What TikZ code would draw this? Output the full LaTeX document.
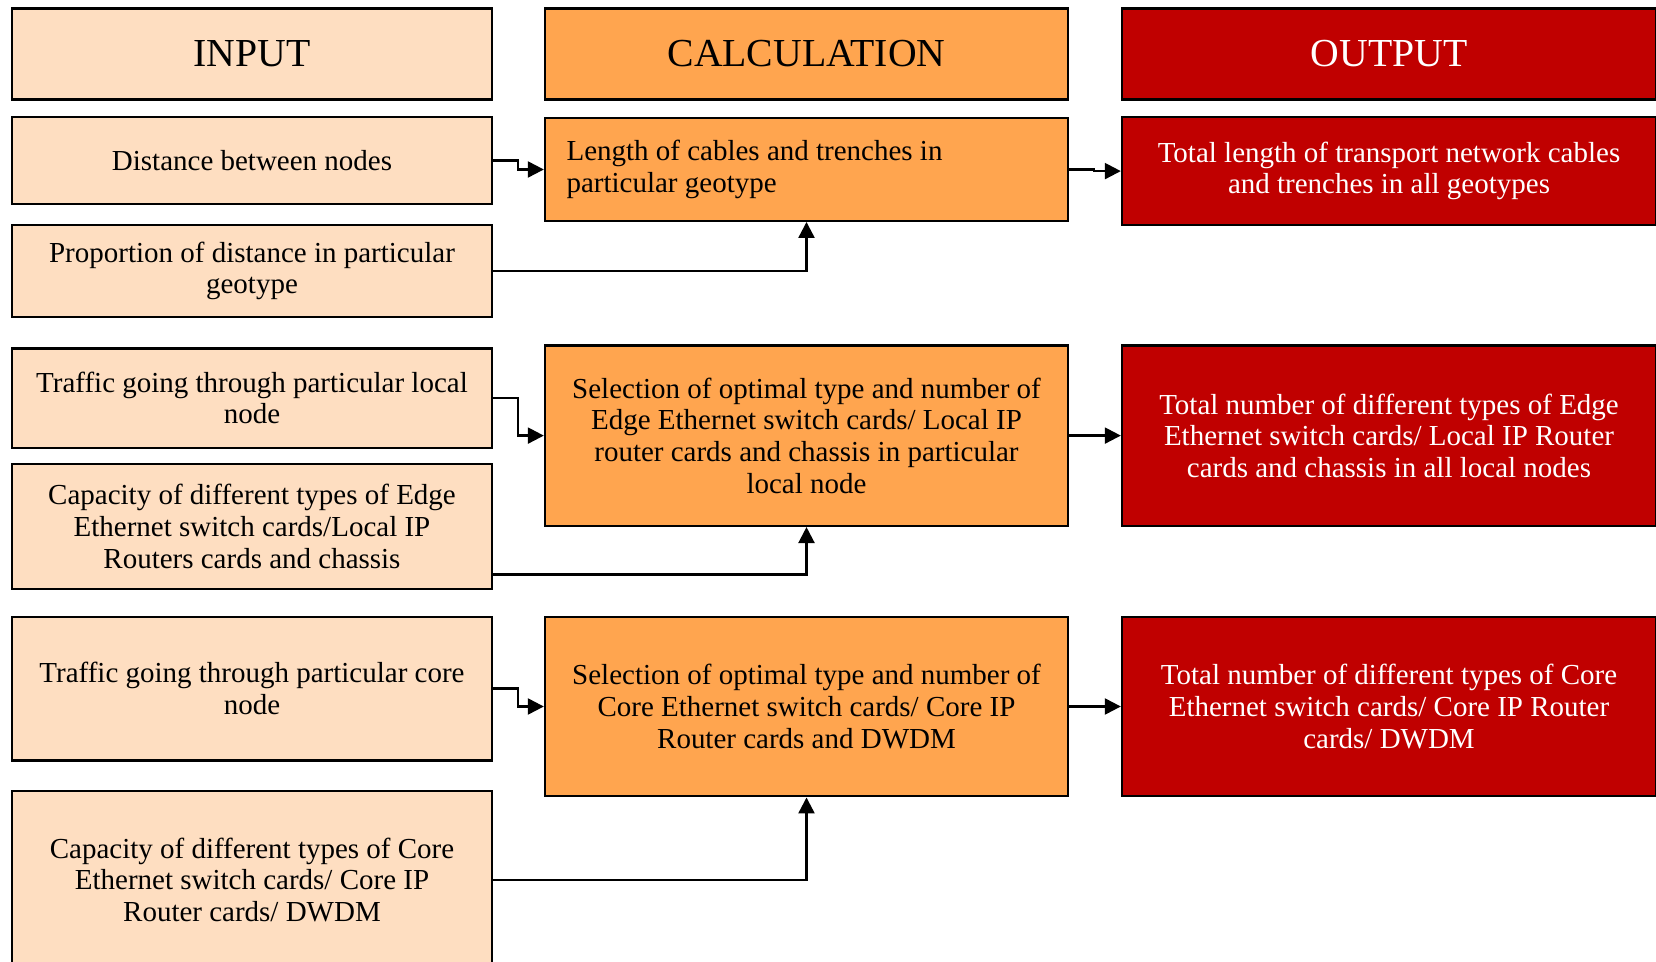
\documentclass[tikz,border=0pt]{standalone}
\usepackage{fontspec}
\setmainfont{Liberation Serif}
\usetikzlibrary{arrows.meta}
\definecolor{inpeach}{RGB}{254,222,193}
\definecolor{calcorange}{RGB}{255,165,79}
\definecolor{outred}{RGB}{192,0,0}

\begin{document}
\begin{tikzpicture}[x=0.02cm, y=-0.02cm,
      box/.style={rectangle, draw=black, line width=1.4pt, align=center, inner sep=4pt,
                  font=\fontsize{16.5}{18}\selectfont},
      inbox/.style={box, fill=inpeach, minimum width=9.6cm},
      calcbox/.style={box, fill=calcorange, minimum width=10.46cm},
      outbox/.style={box, fill=outred, text=white, minimum width=10.68cm},
      head/.style={font=\fontsize{22.6}{26}\selectfont, minimum height=1.82cm},
      arr/.style={-{Triangle[length=0.32cm, width=0.32cm]}, line width=1.3pt}]
    \useasboundingbox (0,0) rectangle (1656,962);
    % column headers
    \node[inbox, head] (inhead) at (252,53.9) {INPUT};
    \node[calcbox, head] (calchead) at (806.5,53.9) {CALCULATION};
    \node[outbox, head] (outhead) at (1389,53.9) {OUTPUT};
    % cables and trenches
    \node[inbox, minimum height=1.73cm] (dist) at (252,160.5) {Distance between nodes};
    \node[inbox, minimum height=1.84cm] (prop) at (252,270.9) {Proportion of distance in particular\\geotype};
    \node[calcbox, minimum height=2.05cm, text width=9.6cm, align=flush left] (len) at (806.5,169.5)
      {Length of cables and trenches in\\particular geotype};
    \node[outbox, minimum height=2.16cm] (totlen) at (1389,171.1)
      {Total length of transport network cables\\and trenches in all geotypes};
    % local nodes
    \node[inbox, minimum height=1.99cm] (trloc) at (252,398.1) {Traffic going through particular local\\node};
    \node[inbox, minimum height=2.51cm] (capedge) at (252,526.5)
      {Capacity of different types of Edge\\Ethernet switch cards/Local IP\\Routers cards and chassis};
    \node[calcbox, minimum height=3.61cm] (seledge) at (806.5,435.6)
      {Selection of optimal type and number of\\Edge Ethernet switch cards/ Local IP\\router cards and chassis in particular\\local node};
    \node[outbox, minimum height=3.61cm] (totedge) at (1389,435.6)
      {Total number of different types of Edge\\Ethernet switch cards/ Local IP Router\\cards and chassis in all local nodes};
    % core nodes
    \node[inbox, minimum height=2.87cm] (trcore) at (252,688.6) {Traffic going through particular core\\node};
    \node[inbox, minimum height=3.55cm] (capcore) at (252,879.7)
      {Capacity of different types of Core\\Ethernet switch cards/ Core IP\\Router cards/ DWDM};
    \node[calcbox, minimum height=3.59cm] (selcore) at (806.5,706.5)
      {Selection of optimal type and number of\\Core Ethernet switch cards/ Core IP\\Router cards and DWDM};
    \node[outbox, minimum height=3.59cm] (totcore) at (1389,706.5)
      {Total number of different types of Core\\Ethernet switch cards/ Core IP Router\\cards/ DWDM};
    % connectors
    \draw[arr] (dist.east) -- ++(25,0) |- (len.west);
    \draw[arr] (prop.east) -| (len.south);
    \draw[arr] (len.east) -- ++(25,0) |- (totlen.west);
    \draw[arr] (trloc.east) -- ++(25,0) |- (seledge.west);
    \draw[arr] ([yshift=-0.96cm]capedge.east) -| (seledge.south);
    \draw[arr] (seledge.east) -- ++(25,0) |- (totedge.west);
    \draw[arr] (trcore.east) -- ++(25,0) |- (selcore.west);
    \draw[arr] (capcore.east) -| (selcore.south);
    \draw[arr] (selcore.east) -- (totcore.west);
  \end{tikzpicture}
\end{document}
